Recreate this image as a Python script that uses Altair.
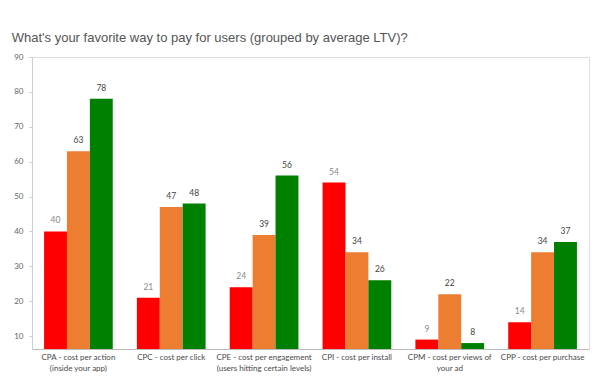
import altair as alt
import pandas as pd

categories = [
    "CPA - cost per action|(inside your app)",
    "CPC - cost per click",
    "CPE - cost per engagement|(users hitting certain levels)",
    "CPI - cost per install",
    "CPM - cost per views of|your ad",
    "CPP - cost per purchase",
]
series = ["Low LTV", "Medium LTV", "High LTV"]
low = [40, 21, 24, 54, 9, 14]
medium = [63, 47, 39, 34, 22, 34]
high = [78, 48, 56, 26, 8, 37]
colors = ["#FF0000", "#ED7D31", "#008000"]
label_colors = ["#8a8a8a", "#444444", "#444444"]

rows = []
for vals, s, lc in zip([low, medium, high], series, label_colors):
    for c, v in zip(categories, vals):
        rows.append({"category": c, "series": s, "value": v, "lc": lc})
df = pd.DataFrame(rows)

x = alt.X(
    "category:N",
    sort=categories,
    title=None,
    scale=alt.Scale(paddingInner=0.26, paddingOuter=0.13),
    axis=alt.Axis(
        labelExpr="split(datum.label, '|')",
        labelAngle=0,
        labelFont="Lato",
        labelFontSize=8,
        labelColor="#4a4a4a",
        labelPadding=4,
        labelLineHeight=11,
        ticks=False,
        domainColor="#bbbbbb",
        labelLimit=200,
    ),
)
xo = alt.XOffset("series:N", sort=series, scale=alt.Scale(paddingInner=0, paddingOuter=0))
y = alt.Y(
    "value:Q",
    title=None,
    scale=alt.Scale(domain=[6.3, 90], nice=False, zero=False),
    axis=alt.Axis(
        values=[10, 20, 30, 40, 50, 60, 70, 80, 90],
        grid=False,
        labelFont="Lato",
        labelFontSize=8,
        labelColor="#666666",
        tickSize=3,
        tickColor="#c8d0dc",
        domainColor="#c8d0dc",
        labelPadding=6,
    ),
)

base = alt.Chart(df)
bars = base.mark_bar(clip=True).encode(
    x=x,
    xOffset=xo,
    y=y,
    color=alt.Color("series:N", sort=series, scale=alt.Scale(domain=series, range=colors), legend=None),
)
labels = base.mark_text(dy=-6, font="Lato", fontSize=8.5, baseline="bottom").encode(
    x=x,
    xOffset=xo,
    y=y,
    text="value:Q",
    color=alt.Color("lc:N", scale=None),
)

chart = (
    alt.layer(bars, labels)
    .properties(
        width=557,
        height=292,
        title=alt.TitleParams(
            "What's your favorite way to pay for users (grouped by average LTV)?",
            anchor="start",
            dx=-2,
            offset=8,
            font="Liberation Sans",
            fontSize=13,
            fontWeight="normal",
            color="#555555",
        ),
        autosize=alt.AutoSizeParams(type="none"),
        padding={"left": 32, "top": 57, "right": 14, "bottom": 28},
    )
    .configure_view(stroke=None)
    .configure(background="white")
)

chart.save("out.html", embed_options={"renderer": "svg", "actions": False})
